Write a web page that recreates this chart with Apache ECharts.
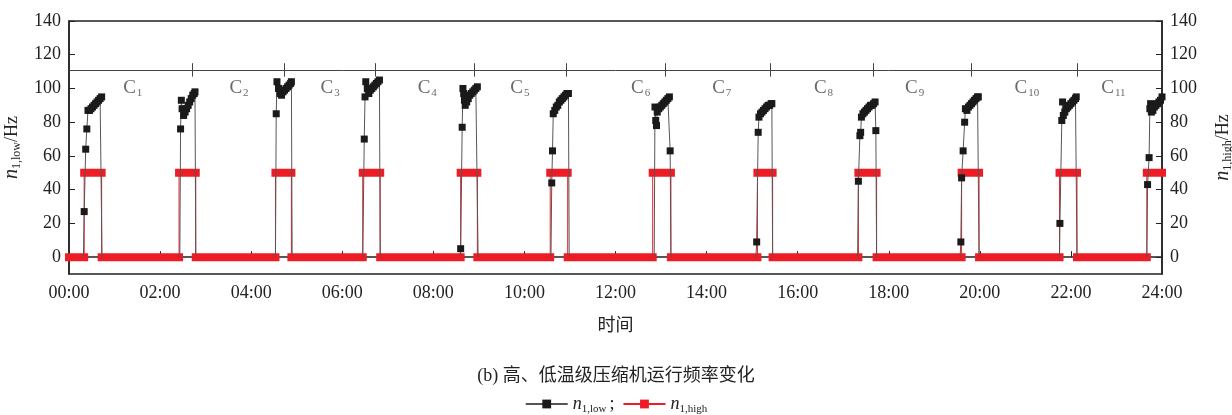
<!DOCTYPE html>
<html>
<head>
<meta charset="utf-8">
<script src="https://cdn.jsdelivr.net/npm/echarts@6/dist/echarts.min.js"></script>
<style>
  html, body { margin: 0; padding: 0; background: #fff; }
  #chart { width: 1232px; height: 415px; }
</style>
</head>
<body>
<div id="chart"></div>
<script>
// time in minutes after 00:00, frequency in Hz
const lowC1 = [[19, 0], [20, 27], [22, 64], [23.5, 76], [25, 87], [27, 87], [29, 88], [31, 89], [33, 90], [35, 91], [37, 92], [39, 93], [41, 94], [43, 95], [43.5, 0]];
const lowC2 = [[146, 0], [147, 76], [148, 93], [149, 88], [151, 84], [153, 86], [155, 88], [157, 90], [159, 92], [161, 94], [163, 96], [165, 97], [166, 98], [167, 0]];
const lowC3 = [[272, 0], [273, 85], [274, 104], [276, 100], [278, 97], [280, 96], [282, 98], [284, 99], [286, 100], [288, 101], [290, 102], [292, 103], [293, 104], [294, 0]];
const lowC4 = [[387, 0], [389, 70], [390, 95], [391, 104], [393, 100], [395, 97], [397, 99], [399, 100], [401, 101], [403, 102], [405, 103], [407, 104], [409, 105], [410, 0]];
const lowC5 = [[515, 0], [516, 5], [518, 77], [519, 100], [520, 97], [521, 93], [522, 90], [524, 92], [526, 94], [528, 96], [530, 97], [532, 98], [534, 99], [536, 100], [538, 101], [539, 0]];
const lowC6 = [[635, 0], [636, 44], [637, 63], [638, 85], [640, 87], [642, 89], [644, 90], [646, 92], [648, 93], [650, 94], [652, 95], [654, 96], [656, 97], [658, 97], [659, 0]];
const lowC7 = [[771, 0], [772, 89], [773, 81], [774, 78], [775, 86], [777, 88], [779, 89], [781, 90], [783, 91], [785, 92], [787, 93], [789, 94], [791, 95], [792, 63], [793, 0]];
const lowC8 = [[905, 0], [906, 9], [908, 74], [909, 83], [911, 85], [913, 86], [915, 87], [917, 88], [919, 89], [921, 90], [923, 90], [925, 91], [926, 91], [927, 0]];
const lowC9 = [[1039, 0], [1040, 45], [1042, 72], [1043, 74], [1044, 83], [1046, 85], [1048, 86], [1050, 87], [1052, 88], [1054, 89], [1056, 90], [1058, 90], [1060, 91], [1062, 92], [1063, 75], [1064, 0]];
const lowC10 = [[1174, 0], [1175, 9], [1176, 47], [1178, 63], [1180, 80], [1181, 88], [1183, 87], [1185, 89], [1187, 90], [1189, 91], [1191, 92], [1193, 93], [1195, 94], [1197, 95], [1198, 95], [1199, 0]];
const lowC11 = [[1305, 0], [1305.5, 20], [1308, 81], [1309, 92], [1310, 84], [1312, 86], [1314, 88], [1316, 89], [1318, 90], [1320, 91], [1322, 92], [1324, 93], [1326, 94], [1327, 95], [1328, 0]];
const lowC12 = [[1420, 0], [1421, 43], [1423, 59], [1424, 88], [1425, 91], [1426, 86], [1428, 87], [1430, 89], [1432, 90], [1434, 91], [1436, 92], [1438, 93], [1440, 95]];

// high-stage compressor: switches between 0 and 50 Hz
const highRise = [20, 145, 272, 387, 516, 634, 769, 907, 1040, 1176, 1305, 1420];
const highFall = [43, 167, 293, 410, 538, 657, 793, 927, 1064, 1199, 1328];
const highOn = 50;

// cycle marks along the top line
const cycleEnds = [163, 283, 404, 534, 655, 786, 924, 1060, 1189, 1328];
const cycleNames = ['1', '2', '3', '4', '5', '6', '7', '8', '9', '10', '11'];
const cycleLabelAt = [84, 224, 344, 472, 594, 753, 860, 994, 1114, 1262, 1376];
const cycleLine = 111;
const cycleLabelLevel = 100;

const yTicks = [0, 20, 40, 60, 80, 100, 120, 140];

const serif = 'Liberation Serif, Noto Sans CJK SC';
const RED = '#ee1c25';

// low-stage series, runs split by gaps
const lowData = [];
[lowC1, lowC2, lowC3, lowC4, lowC5, lowC6, lowC7, lowC8, lowC9, lowC10, lowC11, lowC12].forEach(run => {
  run.forEach(p => lowData.push(p));
  lowData.push([run[run.length - 1][0], null]);
});

// high-stage step path
const highStep = [[0, 0]];
highRise.forEach((r, i) => {
  highStep.push([r, 0], [r, highOn]);
  if (i < highFall.length) highStep.push([highFall[i], highOn], [highFall[i], 0]);
});
highStep.push([1440, highStep[highStep.length - 1][1]]);

// flat parts drawn thick
const highBars = [];
for (let i = 0; i + 1 < highStep.length; i++) {
  const a = highStep[i], b = highStep[i + 1];
  if (a[1] === b[1]) highBars.push(a, b, [b[0], null]);
}

const chart = echarts.init(document.getElementById('chart'));

const yAxisBase = {
  type: 'value',
  min: -10,
  max: 140,
  interval: 10,
  splitLine: { show: false },
  axisLine: { show: true, lineStyle: { color: '#222', width: 1.5 } },
  axisTick: { show: true, inside: true, length: 6, customValues: yTicks, lineStyle: { color: '#222' } },
  axisLabel: { customValues: yTicks, color: '#222', fontFamily: serif, fontSize: 18 },
  nameLocation: 'middle',
  nameRotate: 90,
  nameTextStyle: {
    color: '#222',
    rich: {
      i: { fontFamily: serif, fontStyle: 'italic', fontSize: 20, color: '#222' },
      s: { fontFamily: serif, fontSize: 12, color: '#222', padding: [10, 0, 0, 0] },
      u: { fontFamily: serif, fontSize: 18, color: '#222' }
    }
  }
};

const option = {
  animation: false,
  title: {
    text: '(b) 高、低温级压缩机运行频率变化',
    left: 'center',
    top: 362,
    textStyle: { fontFamily: serif, fontSize: 18, fontWeight: 'normal', color: '#222' }
  },
  legend: {
    data: ['n1,low', 'n1,high'],
    left: 'center',
    top: 390,
    itemWidth: 42,
    itemHeight: 11,
    itemGap: 8,
    formatter: name => name === 'n1,low' ? '{i|n}{s|1,low}{t|;}' : '{i|n}{s|1,high}',
    textStyle: {
      rich: {
        i: { fontFamily: serif, fontStyle: 'italic', fontSize: 18, color: '#222' },
        s: { fontFamily: serif, fontSize: 11, color: '#222', padding: [10, 0, 0, 0] },
        t: { fontFamily: serif, fontSize: 18, color: '#222', padding: [0, 0, 0, 3] }
      }
    }
  },
  grid: {
    left: 69, right: 70, top: 21, bottom: 141,
    outerBoundsMode: 'none',
    show: true, borderColor: '#222', borderWidth: 1.5
  },
  xAxis: {
    type: 'value',
    min: 0,
    max: 1440,
    interval: 120,
    name: '时间',
    nameLocation: 'middle',
    nameGap: 43,
    nameTextStyle: { fontFamily: serif, fontSize: 18, color: '#222' },
    splitLine: { show: false },
    axisLine: { lineStyle: { color: '#222', width: 1.5 } },
    axisTick: { inside: true, length: 6, lineStyle: { color: '#222' } },
    axisLabel: {
      color: '#222', fontFamily: serif, fontSize: 18, margin: 10,
      formatter: v => String(v / 60).padStart(2, '0') + ':00'
    }
  },
  yAxis: [
    Object.assign({}, yAxisBase, { position: 'left', name: '{i|n}{s|1,low}{u|/Hz}', nameGap: 37 }),
    Object.assign({}, yAxisBase, { position: 'right', name: '{i|n}{s|1,high}{u|/Hz}', nameGap: 50,
      axisLabel: Object.assign({}, yAxisBase.axisLabel, { margin: 8 }) })
  ],
  series: [
    {
      name: 'n1,high-bar',
      type: 'line',
      data: highBars,
      showSymbol: false,
      symbol: 'none',
      lineStyle: { color: RED, width: 8, cap: 'square' },
      z: 2,
      silent: true
    },
    {
      name: 'n1,high',
      type: 'line',
      data: highStep,
      showSymbol: false,
      symbol: 'rect',
      color: RED,
      lineStyle: { color: RED, width: 1 },
      z: 3
    },
    {
      name: 'n1,low',
      type: 'line',
      data: lowData,
      symbol: 'rect',
      symbolSize: v => (v[1] === 0 ? 0 : 7),
      color: '#1a1a1a',
      itemStyle: { color: '#1a1a1a' },
      lineStyle: { color: '#555', width: 1 },
      z: 4
    },
    {
      name: 'cycles',
      type: 'scatter',
      data: cycleLabelAt.map(t => [t, cycleLabelLevel]),
      symbolSize: 0,
      silent: true,
      label: {
        show: true,
        position: 'inside',
        formatter: p => '{c|C}{s|' + cycleNames[p.dataIndex] + '}',
        rich: {
          c: { fontFamily: serif, fontSize: 19, color: '#444' },
          s: { fontFamily: serif, fontSize: 11, color: '#444', padding: [10, 0, 0, 1] }
        }
      },
      markLine: {
        silent: true,
        symbol: ['none', 'none'],
        label: { show: false },
        lineStyle: { color: '#444', width: 1, type: 'solid' },
        data: [{ yAxis: cycleLine }].concat(
          cycleEnds.map(t => [{ coord: [t, cycleLine - 4] }, { coord: [t, cycleLine + 4] }])
        )
      }
    }
  ]
};

chart.setOption(option);
</script>
</body>
</html>
